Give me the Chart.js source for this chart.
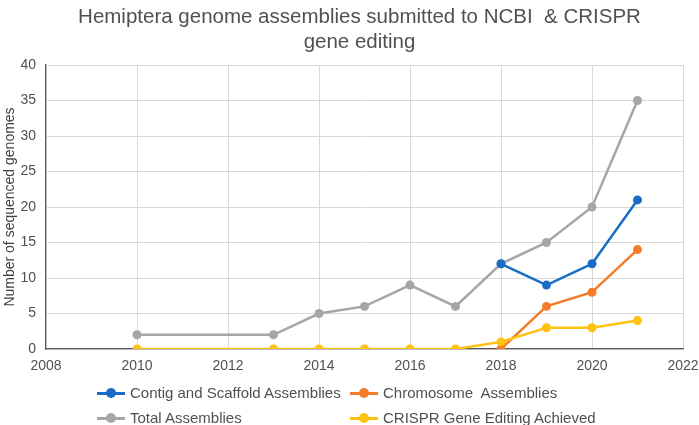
<!DOCTYPE html>
<html><head><meta charset="utf-8">
<script src="https://cdn.jsdelivr.net/npm/chart.js@4.4.0/dist/chart.umd.min.js"></script>
<style>
html,body{margin:0;padding:0;background:#fff;}
#wrap{position:relative;width:699px;height:425px;font-family:"Liberation Sans",Arial,sans-serif;}
canvas{position:absolute;left:0;top:0;}
#title{position:absolute;left:20px;top:3px;width:679px;text-align:center;font-size:20.5px;line-height:25px;color:#505050;}
.leg{position:absolute;font-size:15px;color:#505050;height:20px;line-height:20px;white-space:pre;}
.leg .ln{position:absolute;left:0;top:9px;width:28px;height:2.5px;}
.leg .dt{position:absolute;left:9px;top:5px;width:10px;height:10px;border-radius:50%;}
.leg .tx{position:absolute;left:33px;top:0;}
</style></head>
<body><div id="wrap"><canvas id="c" width="699" height="425"></canvas>
<div id="title">Hemiptera genome assemblies submitted to NCBI&nbsp; &amp; CRISPR<br>gene editing</div>
<div id="legend"></div></div>
<script>
const chartTitle = "Hemiptera genome assemblies submitted to NCBI  & CRISPR gene editing";
const yAxisTitle = "Number of sequenced genomes";
const seriesNames = ["Contig and Scaffold Assemblies", "Chromosome  Assemblies", "Total Assemblies", "CRISPR Gene Editing Achieved"];
const seriesColors = ["#1A6DC6", "#F47C2A", "#A6A6A6", "#FFC20E"];
const contigYears = [2018, 2019, 2020, 2021];
const contigValues = [12, 9, 12, 21];
const chromYears = [2018, 2019, 2020, 2021];
const chromValues = [0, 6, 8, 14];
const totalYears = [2010, 2013, 2014, 2015, 2016, 2017, 2018, 2019, 2020, 2021];
const totalValues = [2, 2, 5, 6, 9, 6, 12, 15, 20, 35];
const crisprYears = [2010, 2013, 2014, 2015, 2016, 2017, 2018, 2019, 2020, 2021];
const crisprValues = [0, 0, 0, 0, 0, 0, 1, 3, 3, 4];
const xTicks = [2008, 2010, 2012, 2014, 2016, 2018, 2020, 2022];
const yTicks = [0, 5, 10, 15, 20, 25, 30, 35, 40];

function pts(xs, ys){ return xs.map((x,i)=>({x:x, y:ys[i]})); }
const allData = [pts(contigYears,contigValues), pts(chromYears,chromValues), pts(totalYears,totalValues), pts(crisprYears,crisprValues)];
const order = [2, 1, 3, 0];
const datasets = [0,1,2,3].map(i=>({
  label: seriesNames[i],
  data: allData[i],
  borderColor: seriesColors[i],
  backgroundColor: seriesColors[i],
  borderWidth: 2.5,
  pointRadius: 4.5,
  pointHoverRadius: 4.5,
  pointBorderWidth: 0,
  showLine: true,
  tension: 0,
  order: order[i]
}));

const legPos = [[97,383],[350,383],[97,408],[350,408]];
const legEl = document.getElementById('legend');
seriesNames.forEach((n,i)=>{
  const d = document.createElement('div');
  d.className='leg';
  d.style.left = legPos[i][0]+'px'; d.style.top = legPos[i][1]+'px';
  d.innerHTML = '<div class="ln" style="background:'+seriesColors[i]+'"></div><div class="dt" style="background:'+seriesColors[i]+'"></div><div class="tx"></div>';
  d.querySelector('.tx').textContent = n;
  legEl.appendChild(d);
});

new Chart(document.getElementById('c'), {
  type: 'scatter',
  data: { datasets },
  options: {
    responsive: false,
    animation: false,
    devicePixelRatio: 1,
    layout: { padding: { left: 0, right: 16, top: 65, bottom: 0 } },
    plugins: { legend: { display: false }, title: { display: false }, tooltip: { enabled: false } },
    scales: {
      x: {
        type: 'linear', min: 2008, max: 2022,
        afterBuildTicks: s => { s.ticks = xTicks.map(v=>({value:v})); },
        afterFit: s => { s.height = 76; s.paddingRight = 0; s.paddingLeft = 0; },
        ticks: { color: '#505050', font: { size: 14, family: '"Liberation Sans", Arial' }, padding: 9, maxRotation: 0, callback: v => String(v) },
        grid: { color: '#D9D9D9', lineWidth: 1, drawTicks: false },
        border: { color: '#595959', width: 1.2 }
      },
      y: {
        min: 0, max: 40,
        afterBuildTicks: s => { s.ticks = yTicks.map(v=>({value:v})); },
        afterFit: s => { s.width = 46; s.paddingTop = 0; s.paddingBottom = 0; },
        ticks: { color: '#505050', font: { size: 14, family: '"Liberation Sans", Arial' }, padding: 10 },
        grid: { color: '#D9D9D9', lineWidth: 1, drawTicks: false },
        border: { color: '#595959', width: 1.2 },
        title: { display: true, text: yAxisTitle, color: '#404040', font: { size: 14, family: '"Liberation Sans", Arial' }, padding: { top: 2, bottom: 0 } }
      }
    }
  }
});
</script></body></html>
